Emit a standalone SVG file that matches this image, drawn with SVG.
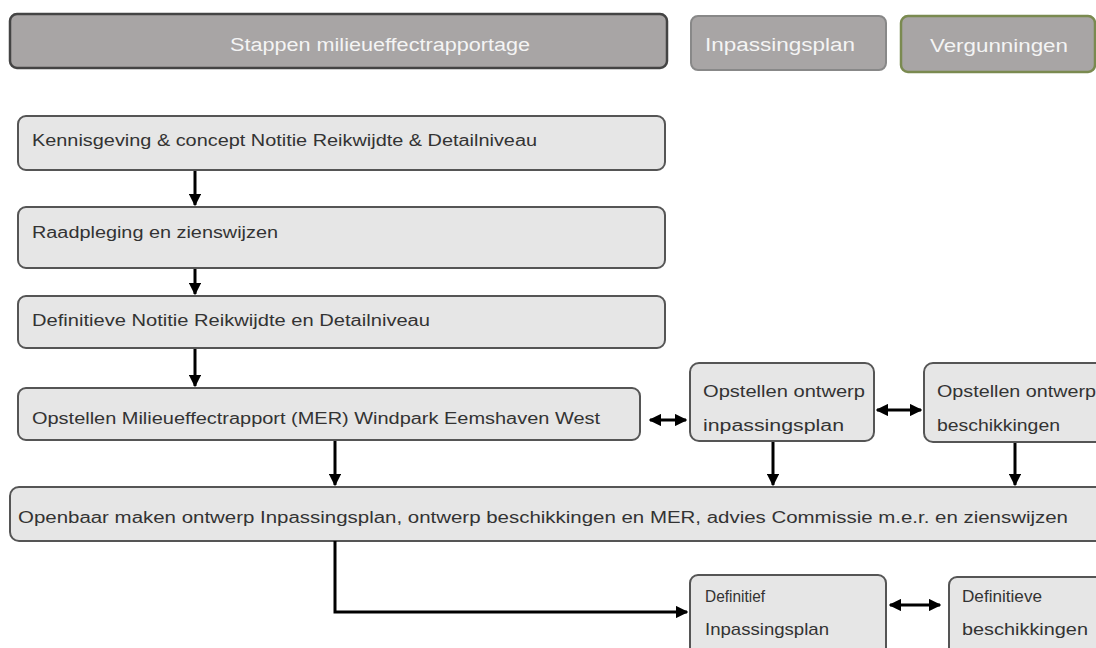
<svg xmlns="http://www.w3.org/2000/svg" width="1096" height="648" viewBox="0 0 1096 648">
<style>
text{font-family:"Liberation Sans",Arial,sans-serif;font-size:16px;fill:#333}
.hdr{fill:#a8a5a5}
.ht{fill:#f4f4f4;font-size:18px}
.box{fill:#e6e6e6;stroke:#555;stroke-width:2}
.c{stroke:#000;stroke-width:3;fill:none}
.lg{font-size:17px}
</style>
<defs>
<marker id="ah" viewBox="0 0 10 10" refX="9" refY="5" markerWidth="4.2" markerHeight="4.2" orient="auto-start-reverse" markerUnits="strokeWidth">
<path d="M0,0 L10,5 L0,10 z" fill="#000"/>
</marker>
</defs>
<rect width="1096" height="648" fill="#fff"/>
<g id="h1"><rect class="hdr" x="10" y="14" width="657" height="54" rx="7" stroke="#444" stroke-width="2.5"/><text class="ht" x="230" y="51" textLength="300" lengthAdjust="spacingAndGlyphs">Stappen milieueffectrapportage</text></g>
<g id="h2"><rect class="hdr" x="691" y="16" width="195" height="54" rx="7" stroke="#888" stroke-width="2"/><text class="ht" x="705" y="51" textLength="150" lengthAdjust="spacingAndGlyphs">Inpassingsplan</text></g>
<g id="h3"><rect class="hdr" x="901" y="16" width="194" height="56" rx="7" stroke="#7a8a50" stroke-width="2.5"/><text class="ht" x="930" y="52" textLength="138" lengthAdjust="spacingAndGlyphs">Vergunningen</text></g>
<g id="n1"><rect class="box" x="18" y="116" width="647" height="54" rx="8"/><text x="32" y="146" textLength="505" lengthAdjust="spacingAndGlyphs">Kennisgeving &amp; concept Notitie Reikwijdte &amp; Detailniveau</text></g>
<g id="n2"><rect class="box" x="18" y="207" width="647" height="61" rx="8"/><text x="32" y="238" textLength="246" lengthAdjust="spacingAndGlyphs">Raadpleging en zienswijzen</text></g>
<g id="n3"><rect class="box" x="18" y="296" width="647" height="52" rx="8"/><text x="32" y="326" textLength="398" lengthAdjust="spacingAndGlyphs">Definitieve Notitie Reikwijdte en Detailniveau</text></g>
<g id="n4"><rect class="box" x="18" y="388" width="622" height="52" rx="8"/><text x="32" y="424" textLength="568" lengthAdjust="spacingAndGlyphs">Opstellen Milieueffectrapport (MER) Windpark Eemshaven West</text></g>
<g id="n5"><rect class="box" x="690" y="363" width="184" height="78" rx="9"/><text x="703" y="397" textLength="162" lengthAdjust="spacingAndGlyphs">Opstellen ontwerp</text><text x="703" y="431" textLength="141" lengthAdjust="spacingAndGlyphs">inpassingsplan</text></g>
<g id="n6"><rect class="box" x="924" y="363" width="190" height="79" rx="9"/><text x="937" y="397" textLength="159" lengthAdjust="spacingAndGlyphs">Opstellen ontwerp</text><text x="937" y="431" textLength="123" lengthAdjust="spacingAndGlyphs">beschikkingen</text></g>
<g id="n7"><rect class="box" x="10" y="487" width="1110" height="54" rx="9" stroke-width="2.5"/><text x="18" y="523" textLength="1050" lengthAdjust="spacingAndGlyphs">Openbaar maken ontwerp Inpassingsplan, ontwerp beschikkingen en MER, advies Commissie m.e.r. en zienswijzen</text></g>
<g id="n8"><rect class="box" x="690" y="575" width="196" height="85" rx="8" stroke="#888"/><text class="lg" x="705" y="602" textLength="60" lengthAdjust="spacingAndGlyphs">Definitief</text><text class="lg" x="705" y="635" textLength="124" lengthAdjust="spacingAndGlyphs">Inpassingsplan</text></g>
<g id="n9"><rect class="box" x="949" y="577" width="170" height="85" rx="8"/><text class="lg" x="962" y="602" textLength="80" lengthAdjust="spacingAndGlyphs">Definitieve</text><text class="lg" x="962" y="635" textLength="126" lengthAdjust="spacingAndGlyphs">beschikkingen</text></g>
<g id="connectors">
<line class="c" x1="195" y1="171" x2="195" y2="205" marker-end="url(#ah)"/>
<line class="c" x1="195" y1="269" x2="195" y2="294" marker-end="url(#ah)"/>
<line class="c" x1="195" y1="349" x2="195" y2="386" marker-end="url(#ah)"/>
<line class="c" x1="335" y1="441" x2="335" y2="485" marker-end="url(#ah)"/>
<line class="c" x1="773" y1="442" x2="773" y2="485" marker-end="url(#ah)"/>
<line class="c" x1="1015" y1="443" x2="1015" y2="485" marker-end="url(#ah)"/>
<line class="c" stroke-width="2.5" x1="650" y1="420" x2="686" y2="420" marker-start="url(#ah)" marker-end="url(#ah)"/>
<line class="c" stroke-width="3.5" x1="877" y1="410" x2="921" y2="410" marker-start="url(#ah)" marker-end="url(#ah)"/>
<polyline class="c" stroke-width="4.5" points="335,541 335,612 687,612" marker-end="url(#ah)"/>
<line class="c" stroke-width="3.5" x1="890" y1="605" x2="940" y2="605" marker-start="url(#ah)" marker-end="url(#ah)"/>
</g>
</svg>
